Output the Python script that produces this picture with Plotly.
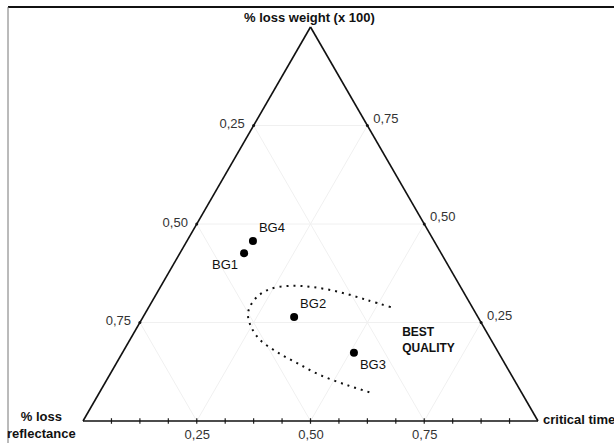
import plotly.graph_objects as go

# ---- data (a = % loss weight, b = % loss reflectance, c = critical time) ----
sample_names = ["BG1", "BG2", "BG3", "BG4"]
weight = [0.426, 0.264, 0.173, 0.457]
reflectance = [0.433, 0.404, 0.318, 0.398]
crit_time = [0.141, 0.332, 0.509, 0.145]
label_pos = ["bottom left", "top right", "bottom right", "top right"]

curve_weight = [0.289, 0.307, 0.327, 0.340, 0.343, 0.335, 0.315, 0.289, 0.269,
                0.239, 0.206, 0.175, 0.147, 0.117, 0.091, 0.071]
curve_reflect = [0.179, 0.222, 0.272, 0.325, 0.373, 0.4215, 0.46, 0.489, 0.503,
                 0.511, 0.508, 0.486, 0.456, 0.421, 0.374, 0.329]
curve_time = [0.532, 0.471, 0.401, 0.335, 0.284, 0.2435, 0.225, 0.222, 0.228,
              0.25, 0.286, 0.339, 0.397, 0.462, 0.535, 0.600]

best_label = ["<b>BEST</b><br><b>QUALITY</b>"]
best_pos = [0.203, 0.197, 0.600]

grid_vals = [0.25, 0.50, 0.75]
tick_vals = [0.25, 0.50, 0.75]
tick_text = ["0,75", "0,50", "0,25"]
bottom_minor = [k / 16 for k in range(1, 16)]

W, H = 614, 443
L, R, T, B = 83, 76, 27, 22
PW, PH = W - L - R, H - T - B
FONT = "Liberation Sans, Arial, sans-serif"


def px(x):
    return (x - L) / PW


def py(y):
    return (H - B - y) / PH


fig = go.Figure()

# faint grid lines
for g in grid_vals:
    for a_, b_, c_ in (([g, g], [1 - g, 0], [0, 1 - g]),
                       ([1 - g, 0], [g, g], [0, 1 - g]),
                       ([1 - g, 0], [0, 1 - g], [g, g])):
        fig.add_trace(go.Scatterternary(a=a_, b=b_, c=c_, mode="lines",
                                        line=dict(color="#f0f0f0", width=1), hoverinfo="skip",
                                        showlegend=False))

# small tick marks along the bottom edge
fig.add_trace(go.Scatterternary(a=[0] * len(bottom_minor), b=[1 - v for v in bottom_minor], c=bottom_minor,
                                mode="markers", marker=dict(symbol="line-ns", size=4,
                                                            line=dict(color="#222", width=1.2)),
                                hoverinfo="skip", showlegend=False, cliponaxis=False))
# small tick marks at labelled positions on the side edges
fig.add_trace(go.Scatterternary(a=tick_vals, b=[1 - v for v in tick_vals], c=[0] * 3,
                                mode="markers", marker=dict(symbol="circle", size=3, color="#222"),
                                hoverinfo="skip", showlegend=False, cliponaxis=False))
fig.add_trace(go.Scatterternary(a=tick_vals, b=[0] * 3, c=[1 - v for v in tick_vals],
                                mode="markers", marker=dict(symbol="circle", size=3, color="#222"),
                                hoverinfo="skip", showlegend=False, cliponaxis=False))

# dotted boundary of best quality region
fig.add_trace(go.Scatterternary(a=curve_weight, b=curve_reflect, c=curve_time, mode="lines",
                                line=dict(color="#111", width=2.0, dash="2px,5px", shape="spline"),
                                hoverinfo="skip", showlegend=False))

# samples
fig.add_trace(go.Scatterternary(a=weight, b=reflectance, c=crit_time, mode="markers+text",
                                text=sample_names, textposition=label_pos,
                                textfont=dict(family=FONT, size=13, color="#111"),
                                marker=dict(color="#000", size=8), showlegend=False))

fig.add_trace(go.Scatterternary(a=[best_pos[0]], b=[best_pos[1]], c=[best_pos[2]], mode="text",
                                text=best_label, textposition="middle right",
                                textfont=dict(family=FONT, size=12, color="#111"),
                                showlegend=False))

axis_common = dict(
    tickvals=tick_vals, ticktext=tick_text, showgrid=False,
    linecolor="#111", linewidth=1.6, ticks="outside", ticklen=6, tickcolor="rgba(0,0,0,0)",
    tickfont=dict(family=FONT, size=13, color="#333"),
    title=dict(text=""), min=0,
)
bottom_axis = dict(axis_common, ticklen=1)

fig.update_layout(
    width=W, height=H,
    margin=dict(l=L, r=R, t=T, b=B),
    paper_bgcolor="white",
    font=dict(family=FONT, color="#111"),
    ternary=dict(
        sum=1, bgcolor="white",
        aaxis=axis_common, baxis=bottom_axis, caxis=axis_common,
    ),
    showlegend=False,
)

# frame lines
fig.add_shape(type="line", xref="paper", yref="paper", x0=px(8), x1=px(614), y0=py(7), y1=py(7),
              line=dict(color="#111", width=2))
fig.add_shape(type="line", xref="paper", yref="paper", x0=px(8), x1=px(8), y0=py(7), y1=py(443),
              line=dict(color="#777", width=1))

# vertex titles
fig.add_annotation(xref="paper", yref="paper", x=px(309), y=py(17), text="<b>% loss weight (x 100)</b>",
                   showarrow=False, font=dict(size=13, color="#111"), xanchor="center", yanchor="middle")
fig.add_annotation(xref="paper", yref="paper", x=px(41), y=py(425), text="<b>% loss</b><br><b>reflectance</b>",
                   showarrow=False, font=dict(size=13, color="#111"), xanchor="center", yanchor="middle",
                   align="center")
fig.add_annotation(xref="paper", yref="paper", x=px(541), y=py(419), text="<b>critical time</b>",
                   showarrow=False, font=dict(size=13, color="#111"), xanchor="left", yanchor="middle")

fig.write_html("out.html")
